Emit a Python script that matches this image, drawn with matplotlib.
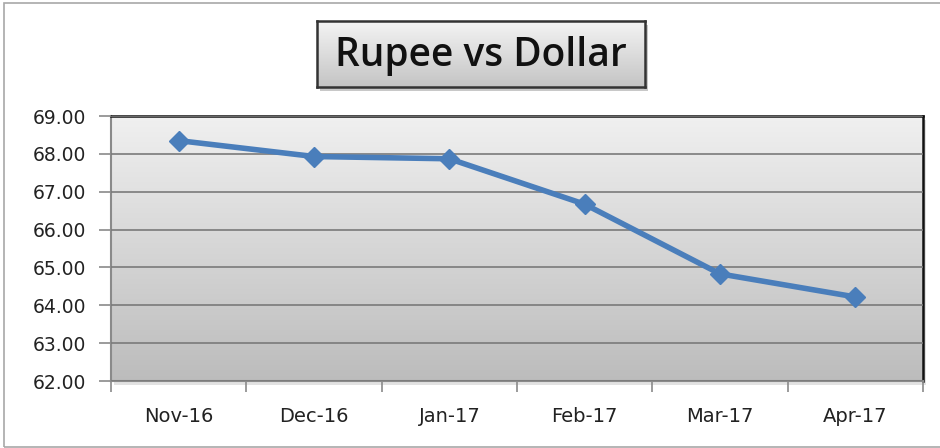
import matplotlib
matplotlib.use("Agg")
import matplotlib.pyplot as plt
import numpy as np
from matplotlib.patches import Rectangle
from matplotlib.colors import LinearSegmentedColormap

categories = ["Nov-16", "Dec-16", "Jan-17", "Feb-17", "Mar-17", "Apr-17"]
rates = [68.35, 67.93, 67.87, 66.67, 64.83, 64.22]
y_ticks = [62, 63, 64, 65, 66, 67, 68, 69]
title = "Rupee vs Dollar"

W, H = 940, 448
fig = plt.figure(figsize=(W / 100, H / 100), dpi=100)
fig.patch.set_facecolor("white")

# outer border
fig.add_artist(Rectangle((4 / W, 1 / H), 1.2, (H - 4) / H, transform=fig.transFigure,
                         fill=False, edgecolor="#a8a8a8", lw=1.2))

# plot area
L, R, T, B = 111, 923, 116, 381
ax = fig.add_axes([L / W, 1 - B / H, (R - L) / W, (B - T) / H])
# shadow under plot area
fig.add_artist(Rectangle(((L + 3) / W, 1 - (B + 4) / H), (R - L) / W, (B - T) / H,
                         transform=fig.transFigure, facecolor="#e2e2e2", edgecolor="none", zorder=-1))

n = len(categories)
x = np.arange(n)

cmap = LinearSegmentedColormap.from_list("g", ["#f0f0f0", "#bcbcbc"])
grad = np.linspace(0, 1, 256).reshape(-1, 1)
ax.imshow(grad, cmap=cmap, aspect="auto", extent=(-0.5, n - 0.5, 62, 69), origin="upper", zorder=0)
ax.set_xlim(-0.5, n - 0.5)
ax.set_ylim(62, 69)

ax.set_yticks(y_ticks)
ax.set_yticklabels([f"{v:.2f}" for v in y_ticks])
ax.yaxis.grid(True, color="#7a7a7a", lw=1.2, zorder=1)
ax.set_axisbelow(False)

ax.set_xticks(np.arange(-0.5, n, 1.0))
ax.set_xticklabels([])
ax.set_xticks(x, minor=True)
ax.set_xticklabels(categories, minor=True)
ax.tick_params(axis="x", which="minor", length=0, pad=19, labelsize=14, labelcolor="#222222")
ax.tick_params(axis="x", which="major", length=8, color="#8a8a8a", width=1.2, direction="out")
ax.tick_params(axis="y", length=9, color="#8a8a8a", width=1.2, pad=9, labelsize=13.5, labelcolor="#222222")

for s in ["left", "bottom"]:
    ax.spines[s].set_color("#8a8a8a")
    ax.spines[s].set_linewidth(1.5)
for s in ["top", "right"]:
    ax.spines[s].set_color("#111111")
    ax.spines[s].set_linewidth(1.8)

ax.plot(x, rates, color="#4a7ebb", lw=4, marker="D", markersize=10,
        markeredgecolor="#4a7ebb", zorder=3, solid_capstyle="round")

# title box
bx0, bx1, by0, by1 = 317, 645, 21, 87
fig.add_artist(Rectangle(((bx0 + 3) / W, 1 - (by1 + 4) / H), (bx1 - bx0) / W, (by1 - by0) / H,
                         transform=fig.transFigure, facecolor="#c8c8c8", edgecolor="none", zorder=1))
tax = fig.add_axes([bx0 / W, 1 - by1 / H, (bx1 - bx0) / W, (by1 - by0) / H], zorder=2)
tcmap = LinearSegmentedColormap.from_list("t", ["#f4f4f4", "#c4c4c4"])
tax.imshow(grad, cmap=tcmap, aspect="auto", extent=(0, 1, 0, 1))
tax.set_xlim(0, 1)
tax.set_ylim(0, 1)
tax.set_xticks([])
tax.set_yticks([])
for s in tax.spines.values():
    s.set_color("#333333")
    s.set_linewidth(1.8)
tax.text(0.5, 0.47, title, ha="center", va="center", fontsize=28, weight="semibold",
         family=["Open Sans", "DejaVu Sans"], color="#111111",
         transform=tax.transAxes)

fig.savefig("out.png", dpi=100)
